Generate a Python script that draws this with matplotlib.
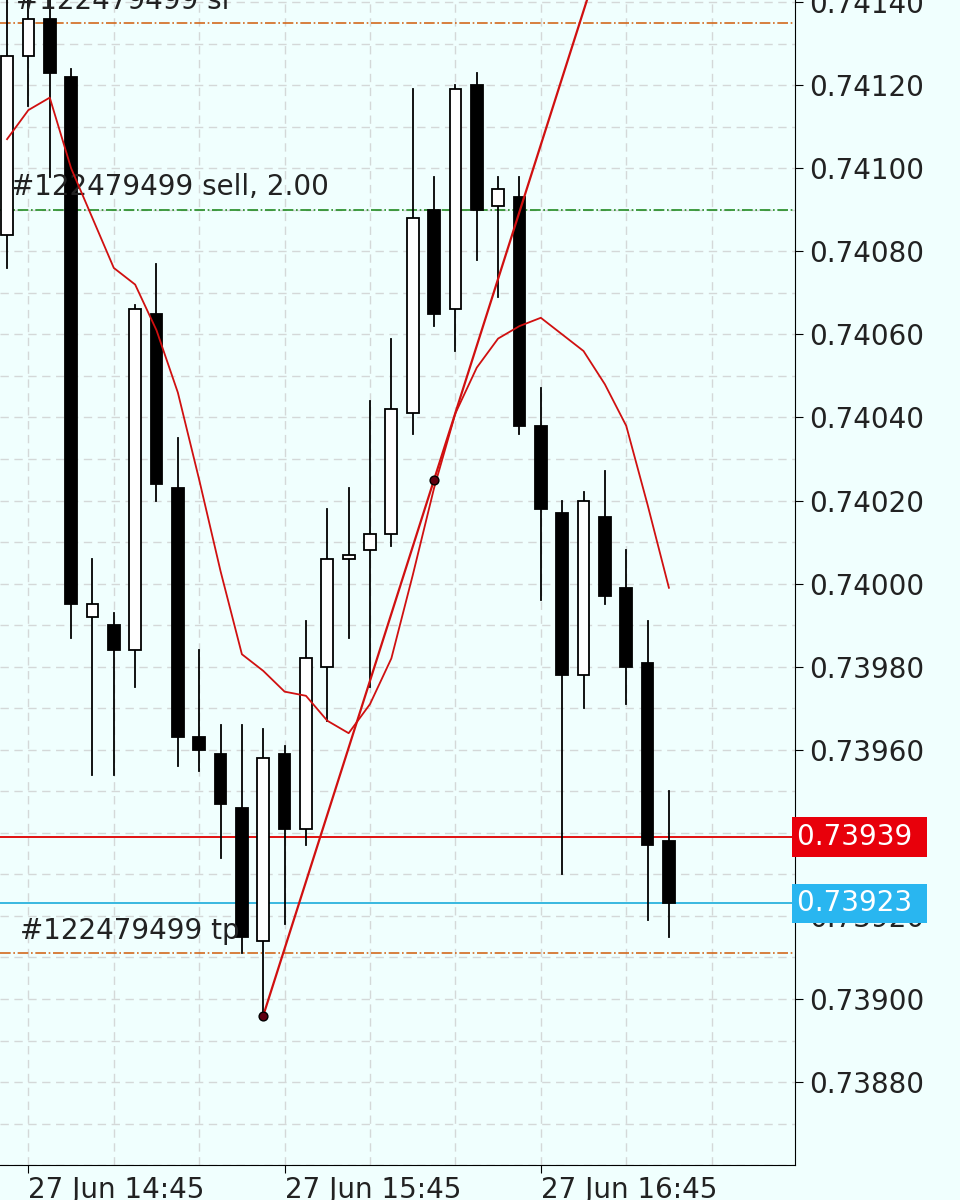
import matplotlib
matplotlib.use("Agg")
import matplotlib.pyplot as plt
from matplotlib.patches import Rectangle

#--------Data--------
Opens  = [0.74084,0.74127,0.74136,0.74122,0.73992,0.73990,0.73984,0.74065,0.74023,0.73963,
          0.73959,0.73946,0.73914,0.73959,0.73941,0.73980,0.74006,0.74008,0.74012,0.74041,
          0.74090,0.74066,0.74120,0.74091,0.74093,0.74038,0.74017,0.73978,0.74016,0.73999,
          0.73981,0.73938]
Highs  = [0.74141,0.74145,0.74142,0.74124,0.74006,0.73993,0.74067,0.74077,0.74035,0.73984,
          0.73966,0.73966,0.73965,0.73961,0.73991,0.74018,0.74023,0.74044,0.74059,0.74119,
          0.74098,0.74120,0.74123,0.74098,0.74098,0.74047,0.74020,0.74022,0.74027,0.74008,
          0.73991,0.73950]
Lows   = [0.74076,0.74115,0.74098,0.73987,0.73954,0.73954,0.73975,0.74020,0.73956,0.73955,
          0.73934,0.73911,0.73896,0.73918,0.73937,0.73967,0.73987,0.73975,0.74009,0.74036,
          0.74062,0.74056,0.74078,0.74069,0.74036,0.73996,0.73930,0.73970,0.73995,0.73971,
          0.73919,0.73915]
Closes = [0.74127,0.74136,0.74123,0.73995,0.73995,0.73984,0.74066,0.74024,0.73963,0.73960,
          0.73947,0.73915,0.73958,0.73941,0.73982,0.74006,0.74007,0.74012,0.74042,0.74088,
          0.74065,0.74119,0.74090,0.74095,0.74038,0.74018,0.73978,0.74020,0.73997,0.73980,
          0.73937,0.73923]
MA = [0.74107,0.74114,0.74117,0.74100,0.74088,0.74076,0.74072,0.74061,0.74046,0.74025,
      0.74003,0.73983,0.73979,0.73974,0.73973,0.73967,0.73964,0.73971,0.73982,0.74002,
      0.74023,0.74041,0.74052,0.74059,0.74062,0.74064,0.74060,0.74056,0.74048,0.74038,
      0.74019,0.73999]
TrendIdx = [12, 20]
TrendPrice = [0.73896, 0.74025]
SL, Entry, TP = 0.74135, 0.74090, 0.73911
Bid, Ask = 0.73939, 0.73923
TickIdx = [1, 13, 25]
TickLabels = ["27 Jun 14:45", "27 Jun 15:45", "27 Jun 16:45"]
PriceTicks = [0.73880 + 0.0002*i for i in range(14)]

#--------Plot--------
Bg = "#f0fffe"
FontSize = 20
fig = plt.figure(figsize=(9.6, 12), dpi=100, facecolor=Bg)
ax = fig.add_axes([0, 0.029, 0.828, 0.971], facecolor=Bg)
ax.set_xlim(-0.33, 36.9)
ax.set_ylim(0.738600, 0.741405)

# grid
GridCol = "#d4d8d8"
for i in range(1, 37, 4):
    ax.axvline(i, color=GridCol, ls=(0, (6, 4)), lw=1, zorder=0)
for k in range(29):
    ax.axhline(0.73860 + 0.0001*k, color=GridCol, ls=(0, (6, 4)), lw=1, zorder=0)

W = 0.55
for i in range(len(Opens)):
    o, h, l, c = Opens[i], Highs[i], Lows[i], Closes[i]
    ax.plot([i, i], [l, h], color="black", lw=1.3, zorder=2)
    bot, top = min(o, c), max(o, c)
    ht = max(top - bot, 0.000008)
    face = "white" if c >= o else "black"
    ax.add_patch(Rectangle((i - W/2, bot), W, ht, facecolor=face, edgecolor="black", lw=1.3, zorder=3))

ax.plot(range(len(MA)), MA, color="#d01010", lw=1.3, zorder=4)

# trend line
slope = (TrendPrice[1]-TrendPrice[0])/(TrendIdx[1]-TrendIdx[0])
ax.plot([TrendIdx[0], 30], [TrendPrice[0], TrendPrice[0] + slope*(30-TrendIdx[0])], color="#d01010", lw=1.6, zorder=4)
ax.scatter(TrendIdx, TrendPrice, s=40, color="#600010", edgecolor="black", zorder=5)

ax.axhline(SL, color="#d2691e", ls="-.", lw=1.2, zorder=1)
ax.axhline(TP, color="#d2691e", ls="-.", lw=1.2, zorder=1)
ax.axhline(Entry, color="#228b22", ls="-.", lw=1.2, zorder=1)
ax.axhline(Bid, color="#e01010", lw=1.4, zorder=1)
ax.axhline(Ask, color="#39b8e0", lw=1.4, zorder=1)

ax.text(0.4, SL+0.00002, "#122479499 sl", fontsize=FontSize, color="#222222", va="bottom")
ax.text(0.2, Entry+0.00002, "#122479499 sell, 2.00", fontsize=FontSize, color="#222222", va="bottom")
ax.text(0.6, TP+0.00002, "#122479499 tp", fontsize=FontSize, color="#222222", va="bottom")

# axes
ax.yaxis.tick_right()
ax.set_yticks(PriceTicks)
ax.set_yticklabels(["%.5f" % p for p in PriceTicks], fontsize=FontSize, color="#222222")
ax.set_xticks(TickIdx)
ax.set_xticklabels(TickLabels, fontsize=FontSize, color="#222222", ha="left")
ax.tick_params(axis="y", length=6, pad=4)
ax.tick_params(axis="x", length=6, pad=2)
for s in ["top", "left"]:
    ax.spines[s].set_visible(False)

for val, col in [(Bid, "#e8000b"), (Ask, "#29b6f0")]:
    ax.text(1.003, val, "%.5f " % val, transform=ax.get_yaxis_transform(), fontsize=FontSize,
            color="white", va="center", ha="left",
            bbox=dict(boxstyle="square,pad=0.2", facecolor=col, edgecolor="none"), zorder=10, clip_on=False)

fig.savefig("out.png", dpi=100, facecolor=Bg)
